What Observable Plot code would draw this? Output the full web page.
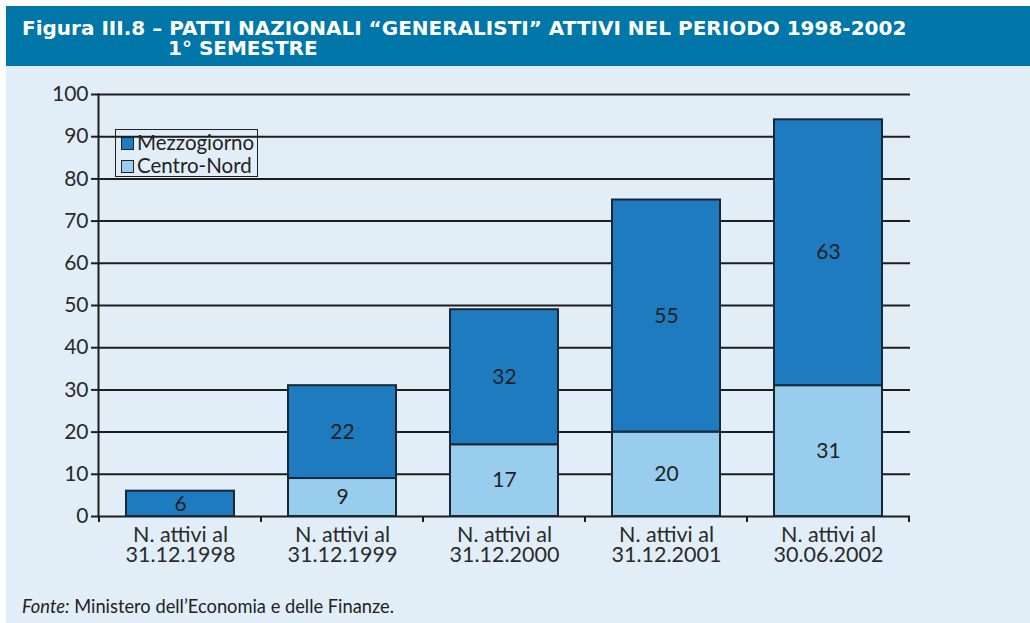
<!DOCTYPE html>
<html>
<head>
<meta charset="utf-8">
<script src="https://cdn.jsdelivr.net/npm/d3@7"></script>
<script src="https://cdn.jsdelivr.net/npm/@observablehq/plot@0.6"></script>
<style>
  html, body { margin: 0; padding: 0; background: #ffffff; width: 1030px; height: 623px; overflow: hidden; }
  #page { position: absolute; left: 6px; top: 6px; width: 1024px; height: 617px; background: #e1eef7; }
  #banner { position: absolute; left: 0; top: 0; width: 1024px; height: 60px; background: #0077a8; color: #fff;
    font-family: "DejaVu Sans", sans-serif; font-weight: bold; font-size: 20px; line-height: 20px; }
  #t1 { position: absolute; left: 16px; top: 12px; white-space: nowrap; }
  #t2 { position: absolute; left: 162px; top: 32px; white-space: nowrap; }
  #chart { position: absolute; left: -6px; top: 60px; }
  #legend { position: absolute; left: 109px; top: 123px; width: 141px; height: 46px; border: 1.5px solid #222;
    font-family: Lato, "Open Sans", sans-serif; font-size: 20.5px; color: #222; }
  .li { position: absolute; left: 5px; white-space: nowrap; line-height: 22px; }
  .sw { display: inline-block; width: 11px; height: 11px; border: 1px solid #222; margin-right: 3px; vertical-align: 0px; }
  #footer { position: absolute; left: 16px; top: 589px; font-family: Lato, "Open Sans", sans-serif; font-size: 18.3px; color: #222; white-space: nowrap; }
</style>
</head>
<body>
<div id="page">
  <div id="banner">
    <div id="t1">Figura III.8 – PATTI NAZIONALI “GENERALISTI” ATTIVI NEL PERIODO 1998-2002</div>
    <div id="t2">1° SEMESTRE</div>
  </div>
  <div id="chart"></div>
  <div id="legend"></div>
  <div id="footer"><i>Fonte:</i> Ministero dell’Economia e delle Finanze.</div>
</div>
<script>
const categories = ["N. attivi al\n31.12.1998", "N. attivi al\n31.12.1999", "N. attivi al\n31.12.2000", "N. attivi al\n31.12.2001", "N. attivi al\n30.06.2002"];
const seriesNames = ["Mezzogiorno", "Centro-Nord"];
const centroNord = [0, 9, 17, 20, 31];
const mezzogiorno = [6, 22, 32, 55, 63];
const yTicks = [0, 10, 20, 30, 40, 50, 60, 70, 80, 90, 100];
const colors = {"Mezzogiorno": "#1f7bc0", "Centro-Nord": "#99cdee"};

const rows = [];
categories.forEach((c, i) => {
  if (centroNord[i] > 0) rows.push({cat: c, series: "Centro-Nord", value: centroNord[i]});
  if (mezzogiorno[i] > 0) rows.push({cat: c, series: "Mezzogiorno", value: mezzogiorno[i]});
});

const W = 1030, H = 520;
const plot = Plot.plot({
  width: W, height: H,
  marginLeft: 98, marginRight: 120, marginTop: 28, marginBottom: 70,
  style: {background: "transparent", fontFamily: "Lato, 'Open Sans', sans-serif", fontSize: "20px", color: "#2a2a2a"},
  x: {domain: categories, paddingInner: 0.335, paddingOuter: 0.1675, axis: null},
  y: {domain: [0, 100], axis: null},
  color: {domain: seriesNames, range: seriesNames.map(s => colors[s])},
  marks: [
    Plot.ruleY(yTicks, {stroke: "#1e1e1e", strokeWidth: 2}),
    Plot.barY(rows, {x: "cat", y: "value", z: "series", fill: d => colors[d.series], stroke: "#1b2733", strokeWidth: 2}),
    Plot.text(rows, Plot.stackY({x: "cat", y: "value", z: "series", text: d => String(d.value), fill: "#222", fontSize: 21})),
    Plot.axisY({ticks: yTicks, tickSize: 7, tickPadding: 3, fontSize: 21, stroke: "#1e1e1e", strokeWidth: 2, fill: "#2a2a2a", label: null}),
    Plot.axisX({tickSize: 0, tickPadding: 12, fontSize: 21.5, lineHeight: 0.9, fill: "#2a2a2a", label: null}),
    Plot.frame({anchor: "left", stroke: "#1e1e1e", strokeWidth: 2})
  ]
});

// boundary ticks on the x axis, derived from the band scale
const xs = plot.scale("x");
const ys = plot.scale("y");
const y0 = ys.apply(0);
const bounds = categories.map(c => xs.apply(c) - (xs.step - xs.bandwidth) / 2);
bounds.push(xs.apply(categories[categories.length - 1]) + xs.bandwidth + (xs.step - xs.bandwidth) / 2);
const g = d3.select(plot).append("g").attr("stroke", "#1e1e1e").attr("stroke-width", 2);
bounds.forEach(b => g.append("line").attr("x1", b).attr("x2", b).attr("y1", y0).attr("y2", y0 + 6));

document.getElementById("chart").appendChild(plot);

const legend = document.getElementById("legend");
seriesNames.forEach((s, i) => {
  const d = document.createElement("div");
  d.className = "li";
  d.style.top = (1 + i * 23) + "px";
  d.innerHTML = `<span class="sw" style="background:${colors[s]}"></span>${s}`;
  legend.appendChild(d);
});
</script>
</body>
</html>
